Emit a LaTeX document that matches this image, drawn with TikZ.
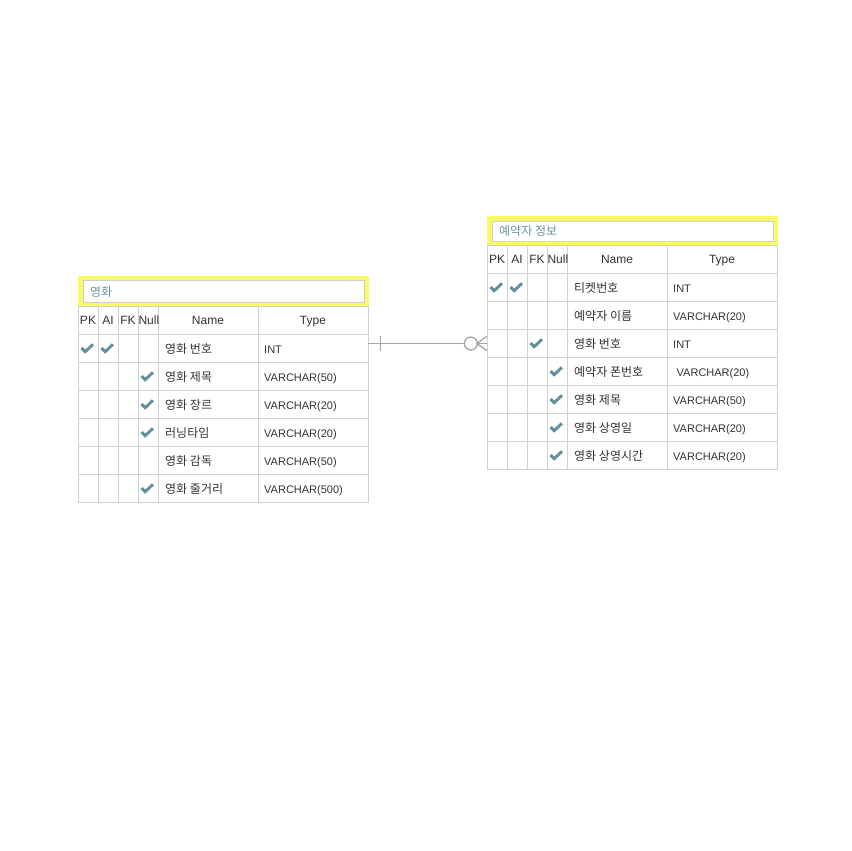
\documentclass[tikz,border=0pt]{standalone}
\usepackage{fontspec}
\setmainfont{Liberation Sans}
\newfontfamily\krfont{Noto Sans CJK KR}
\usetikzlibrary{calc}
\definecolor{gridc}{RGB}{208,208,208}
\definecolor{chk}{RGB}{98,143,155}
\definecolor{txt}{RGB}{51,51,51}
\definecolor{ttl}{RGB}{105,148,162}
\definecolor{yel}{RGB}{250,250,105}
\definecolor{conn}{RGB}{165,165,165}
\begin{document}
\begin{tikzpicture}[x=1pt,y=-1pt,
  gridline/.style={draw=gridc, line width=0.9pt},
  yelband/.style={fill=yel, draw=none},
  titlebox/.style={fill=white, draw=gridc, line width=0.9pt},
  titletext/.style={font=\krfont\fontsize{12}{14}\selectfont, text=ttl, anchor=base west, inner sep=0pt},
  hdr/.style={font=\fontsize{12}{14}\selectfont, text=txt, anchor=base, inner sep=0pt},
  nm/.style={font=\krfont\fontsize{12}{14}\selectfont, text=txt, anchor=base west, inner sep=0pt},
  ty/.style={font=\fontsize{11}{13}\selectfont, text=txt, anchor=base west, inner sep=0pt},
  rowbox/.style={draw=none, inner sep=0pt, minimum height=28pt},
  tablebody/.style={draw=none, inner sep=0pt, anchor=north west},
  connline/.style={draw=conn, line width=1.3pt},
  chkmark/.pic={\draw[chk, line width=2.9pt, line join=miter] (-6,-0.5) -- (-2.3,3.2) -- (5.5,-4.2);}
]
\useasboundingbox (0,0) rectangle (851,851);
\fill[white] (0,0) rectangle (851,851);

% ================= Left table: 영화 =================
\node[tablebody, minimum width=290pt, minimum height=225pt] (movie) at (78,277) {};
\fill[yelband] (78,276) rectangle (369,306);
\draw[titlebox] (83,280.5) rectangle (364,302);
\node[titletext] (movieTitle) at (90,296) {영화};
% grid
\draw[gridline] (78,306) rectangle (368,502);
\foreach \yy in {334,362,390,418,446,474} \draw[gridline] (78,\yy) -- (368,\yy);
\foreach \xx in {98,118,138,158,258} \draw[gridline] (\xx,306) -- (\xx,502);
% header
\node[hdr] (mPK) at (88,324.5) {PK};
\node[hdr] (mAI) at (108,324.5) {AI};
\node[hdr] (mFK) at (128,324.5) {FK};
\begin{scope}
\clip (138,306) rectangle (158.4,334);
\node[hdr, anchor=base west] (mNull) at (138.3,324.5) {Null};
\end{scope}
\node[hdr] (mName) at (208,324.5) {Name};
\node[hdr] (mType) at (313,324.5) {Type};
% rows
\node[rowbox, minimum width=290pt] (L1) at (223,348) {};
\node[rowbox, minimum width=290pt] (L2) at (223,376) {};
\node[rowbox, minimum width=290pt] (L3) at (223,404) {};
\node[rowbox, minimum width=290pt] (L4) at (223,432) {};
\node[rowbox, minimum width=290pt] (L5) at (223,460) {};
\node[rowbox, minimum width=290pt] (L6) at (223,488) {};
\node[nm] (Ln1) at (165,353.5) {영화 번호};
\node[ty] (Lt1) at (264,353.5) {INT};
\node[nm] (Ln2) at (165,381.5) {영화 제목};
\node[ty] (Lt2) at (264,381.5) {VARCHAR(50)};
\node[nm] (Ln3) at (165,409.5) {영화 장르};
\node[ty] (Lt3) at (264,409.5) {VARCHAR(20)};
\node[nm] (Ln4) at (165,437.5) {러닝타임};
\node[ty] (Lt4) at (264,437.5) {VARCHAR(20)};
\node[nm] (Ln5) at (165,465.5) {영화 감독};
\node[ty] (Lt5) at (264,465.5) {VARCHAR(50)};
\node[nm] (Ln6) at (165,493.5) {영화 줄거리};
\node[ty] (Lt6) at (264,493.5) {VARCHAR(500)};
% checks
\pic at (87.5,348.5) {chkmark};
\pic at (107.5,348.5) {chkmark};
\pic at (147.5,376.5) {chkmark};
\pic at (147.5,404.5) {chkmark};
\pic at (147.5,432.5) {chkmark};
\pic at (147.5,488.5) {chkmark};

% ================= Right table: 예약자 정보 =================
\node[tablebody, minimum width=290pt, minimum height=254pt] (booking) at (487,215.5) {};
\fill[yelband] (487,215.5) rectangle (778,245);
\draw[titlebox] (492,221) rectangle (773,241);
\node[titletext] (bookingTitle) at (499,235.5) {예약자 정보};
% grid
\draw[gridline] (487,245) rectangle (777,469);
\foreach \yy in {273,301,329,357,385,413,441} \draw[gridline] (487,\yy) -- (777,\yy);
\foreach \xx in {507,527,547,567,667} \draw[gridline] (\xx,245) -- (\xx,469);
% header
\node[hdr] (bPK) at (497,263.5) {PK};
\node[hdr] (bAI) at (517,263.5) {AI};
\node[hdr] (bFK) at (537,263.5) {FK};
\begin{scope}
\clip (547,245) rectangle (567.4,273);
\node[hdr, anchor=base west] (bNull) at (547.3,263.5) {Null};
\end{scope}
\node[hdr] (bName) at (617,263.5) {Name};
\node[hdr] (bType) at (722,263.5) {Type};
% rows
\node[rowbox, minimum width=290pt] (R1) at (632,287) {};
\node[rowbox, minimum width=290pt] (R2) at (632,315) {};
\node[rowbox, minimum width=290pt] (R3) at (632,343.5) {};
\node[rowbox, minimum width=290pt] (R4) at (632,371) {};
\node[rowbox, minimum width=290pt] (R5) at (632,399) {};
\node[rowbox, minimum width=290pt] (R6) at (632,427) {};
\node[rowbox, minimum width=290pt] (R7) at (632,455) {};
\node[nm] (Rn1) at (574,292.5) {티켓번호};
\node[ty] (Rt1) at (673,292.5) {INT};
\node[nm] (Rn2) at (574,320.5) {예약자 이름};
\node[ty] (Rt2) at (673,320.5) {VARCHAR(20)};
\node[nm] (Rn3) at (574,348.5) {영화 번호};
\node[ty] (Rt3) at (673,348.5) {INT};
\node[nm] (Rn4) at (574,376.5) {예약자 폰번호};
\node[ty] (Rt4) at (676.5,376.5) {VARCHAR(20)};
\node[nm] (Rn5) at (574,404.5) {영화 제목};
\node[ty] (Rt5) at (673,404.5) {VARCHAR(50)};
\node[nm] (Rn6) at (574,432.5) {영화 상영일};
\node[ty] (Rt6) at (673,432.5) {VARCHAR(20)};
\node[nm] (Rn7) at (574,460.5) {영화 상영시간};
\node[ty] (Rt7) at (673,460.5) {VARCHAR(20)};
% checks
\pic at (496.5,287.5) {chkmark};
\pic at (516.5,287.5) {chkmark};
\pic at (536.5,343.5) {chkmark};
\pic at (556.5,371.5) {chkmark};
\pic at (556.5,399.5) {chkmark};
\pic at (556.5,427.5) {chkmark};
\pic at (556.5,455.5) {chkmark};

% ================= Relationship connector =================
\coordinate (cStart) at (L1.east |- R3.west);
\coordinate (cEnd) at (R3.west);
\draw[connline] (cStart) -- ($(cEnd)+(-22.5,0)$);
\draw[connline] ($(cStart)+(12,-7.5)$) -- ($(cStart)+(12,7.5)$);
\draw[connline] ($(cEnd)+(-16,0)$) circle (6.5pt);
\draw[connline] ($(cEnd)+(-10,0)$) -- ($(cEnd)+(0,-7)$);
\draw[connline] ($(cEnd)+(-10,0)$) -- ($(cEnd)+(0,7)$);
\draw[connline] ($(cEnd)+(-10,0)$) -- (cEnd);
\end{tikzpicture}
\end{document}
